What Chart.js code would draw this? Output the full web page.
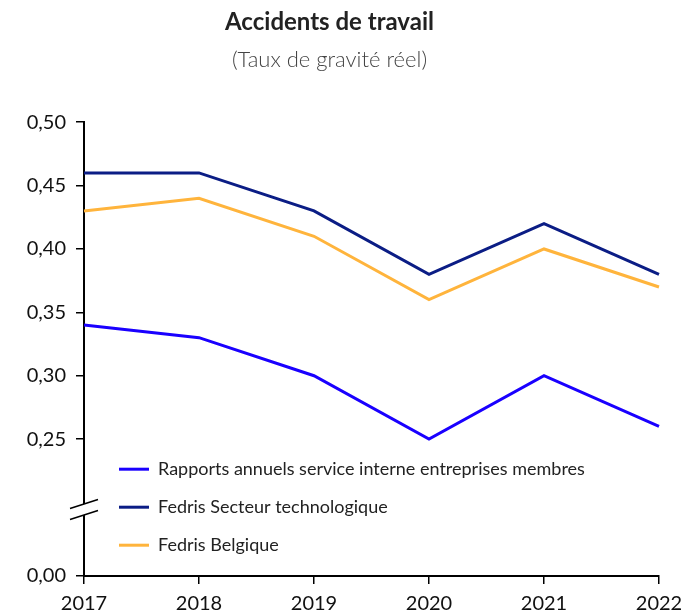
<!DOCTYPE html>
<html>
<head>
<meta charset="utf-8">
<script src="https://cdn.jsdelivr.net/npm/chart.js@4/dist/chart.umd.min.js"></script>
<style>
  html, body { margin: 0; padding: 0; background: #fff; }
  #wrap { width: 686px; height: 616px; }
</style>
</head>
<body>
<div id="wrap"><canvas id="chart"></canvas></div>
<script>
// values
const years = ["2017", "2018", "2019", "2020", "2021", "2022"];
const rapports = [0.34, 0.33, 0.30, 0.25, 0.30, 0.26];
const fedrisSecteur = [0.46, 0.46, 0.43, 0.38, 0.42, 0.38];
const fedrisBelgique = [0.43, 0.44, 0.41, 0.36, 0.40, 0.37];
const yTicks = [0.25, 0.30, 0.35, 0.40, 0.45, 0.50];

// broken axis: the bottom of the scale stands for 0,00
const yBottom = 0.142;

const fontFam = "Lato, 'Open Sans', sans-serif";

// legend drawn inside the plot, lower left
const innerLegend = {
    id: "innerLegend",
    afterDatasetsDraw(chart) {
        const ctx = chart.ctx;
        const area = chart.chartArea;
        ctx.save();
        ctx.font = "18px " + fontFam;
        ctx.textBaseline = "middle";
        chart.data.datasets.forEach(function (ds, i) {
            const y = area.top + 347 + i * 38;
            const x = area.left + 35;
            ctx.strokeStyle = ds.borderColor;
            ctx.lineWidth = 3;
            ctx.beginPath();
            ctx.moveTo(x, y);
            ctx.lineTo(x + 30, y);
            ctx.stroke();
            ctx.fillStyle = "#222";
            ctx.fillText(ds.label, x + 39, y);
        });
        ctx.restore();
    }
};

// the two slashes on the y axis
const axisBreak = {
    id: "axisBreak",
    afterDraw(chart) {
        const ctx = chart.ctx;
        const y = chart.scales.y;
        const x = chart.chartArea.left;
        const mid = (y.getPixelForValue(yBottom) + y.getPixelForValue(0.25)) / 2 + 2;
        ctx.save();
        ctx.fillStyle = "#fff";
        ctx.beginPath();
        ctx.moveTo(x - 14, mid - 1);
        ctx.lineTo(x + 14, mid - 10);
        ctx.lineTo(x + 14, mid + 1);
        ctx.lineTo(x - 14, mid + 10);
        ctx.closePath();
        ctx.fill();
        ctx.strokeStyle = "#000";
        ctx.lineWidth = 1.5;
        ctx.beginPath();
        ctx.moveTo(x - 14, mid - 1);
        ctx.lineTo(x + 14, mid - 10);
        ctx.moveTo(x - 14, mid + 10);
        ctx.lineTo(x + 14, mid + 1);
        ctx.stroke();
        ctx.restore();
    }
};

new Chart(document.getElementById("chart").getContext("2d"), {
    type: "line",
    data: {
        labels: years,
        datasets: [
            { label: "Rapports annuels service interne entreprises membres", data: rapports, borderColor: "#1a00ff" },
            { label: "Fedris Secteur technologique", data: fedrisSecteur, borderColor: "#0b1d85" },
            { label: "Fedris Belgique", data: fedrisBelgique, borderColor: "#ffb43c" }
        ]
    },
    options: {
        responsive: true,
        maintainAspectRatio: false,
        animation: false,
        events: [],
        elements: {
            line: { borderWidth: 3, tension: 0, fill: false },
            point: { radius: 0 }
        },
        layout: { padding: { top: 0, right: 27, left: 0, bottom: 0 } },
        plugins: {
            legend: { display: false },
            tooltip: { enabled: false },
            title: {
                display: true,
                text: "Accidents de travail",
                color: "#222",
                font: { family: fontFam, size: 24, weight: "bold" },
                padding: { top: 8, bottom: 10 }
            },
            subtitle: {
                display: true,
                text: "(Taux de gravité réel)",
                color: "#444",
                font: { family: fontFam, size: 22, weight: "300" },
                padding: { top: 0, bottom: 49 }
            }
        },
        scales: {
            x: {
                offset: false,
                grid: { drawOnChartArea: false, drawTicks: true, tickLength: 8, color: "#000", lineWidth: 1.5 },
                border: { color: "#000", width: 2 },
                ticks: { color: "#111", padding: 8, maxRotation: 0, font: { family: fontFam, size: 20 } },
                afterFit(scale) {
                    scale.height = 40;
                    scale.paddingLeft = 0;
                    scale.paddingRight = 0;
                }
            },
            y: {
                min: yBottom,
                max: 0.5,
                grid: { drawOnChartArea: false, drawTicks: true, tickLength: 8, color: "#000", lineWidth: 1.5 },
                border: { color: "#000", width: 2 },
                ticks: {
                    color: "#111",
                    padding: 10,
                    font: { family: fontFam, size: 20 },
                    callback(v) {
                        if (Math.abs(v - yBottom) < 1e-6) return "0,00";
                        return v.toFixed(2).replace(".", ",");
                    }
                },
                afterBuildTicks(scale) {
                    scale.ticks = [{ value: yBottom }].concat(yTicks.map(function (v) { return { value: v }; }));
                },
                afterFit(scale) { scale.width = 84; }
            }
        }
    },
    plugins: [innerLegend, axisBreak]
});
</script>
</body>
</html>
